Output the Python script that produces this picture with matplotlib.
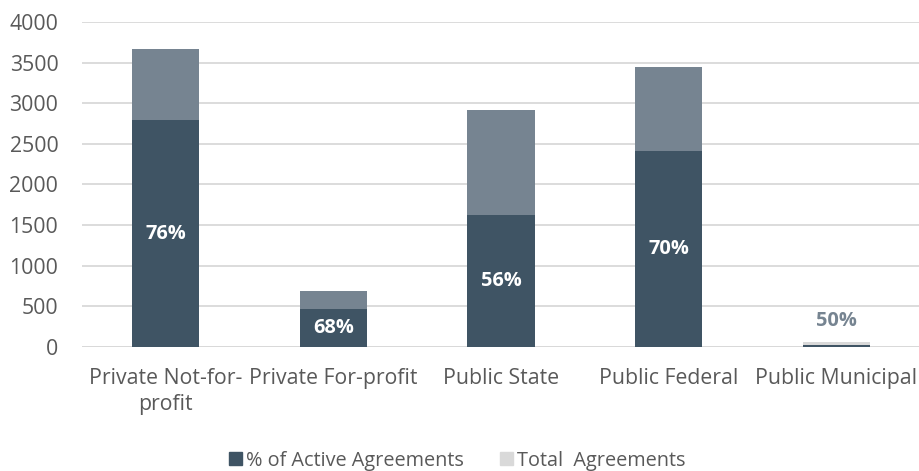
import numpy as np
import matplotlib.pyplot as plt
from matplotlib.patches import Patch

# Datos
categorias = ["Private Not-for-\nprofit", "Private For-profit", "Public State",
              "Public Federal", "Public Municipal"]
total = [3670, 690, 2920, 3450, 60]
activos = [2790, 470, 1630, 2410, 30]
porcentajes = ["76%", "68%", "56%", "70%", "50%"]

oscuro = "#3f5464"
gris = "#768491"
claro = "#d9d9d9"
texto = "#595959"

plt.rcParams["font.family"] = ["Open Sans", "DejaVu Sans"]

fig = plt.figure(figsize=(9.2, 4.71), dpi=100)
ax = fig.add_axes([0.0891, 0.2633, 0.9109, 0.690])

x = np.arange(len(categorias))
width = 0.4
colores_total = [gris, gris, gris, gris, claro]

ax.bar(x, total, width=width, color=colores_total, zorder=2)
ax.bar(x, activos, width=width, color=oscuro, zorder=3)

# Etiquetas de porcentaje
for i in range(len(categorias)):
    if activos[i] > 300:
        ax.text(x[i], activos[i] / 2, porcentajes[i], ha="center", va="center",
                color="white", fontsize=14.4, fontweight="bold", zorder=4)
    else:
        ax.annotate(porcentajes[i], (x[i], total[i]), xytext=(0, 8),
                    textcoords="offset points", ha="center", va="bottom",
                    color=gris, fontsize=14.4, fontweight="bold")

ax.set_xlim(-0.5, 4.5)
ax.set_ylim(0, 4000)
ax.set_yticks(np.arange(0, 4001, 500))
ax.set_xticks(x)
ax.set_xticklabels(categorias, fontsize=15.3, color=texto, linespacing=1.3)
ax.tick_params(axis="y", labelsize=15.3, labelcolor=texto, length=0, pad=17)
ax.tick_params(axis="x", length=0, pad=15)
ax.grid(axis="y", color=claro, linewidth=1.3, zorder=0)
ax.axhline(0, color=claro, linewidth=2, zorder=1)
for s in ax.spines.values():
    s.set_visible(False)

handles = [Patch(color=oscuro), Patch(color=claro)]
fig.legend(handles, ["% of Active Agreements", "Total  Agreements"],
           loc="center", bbox_to_anchor=(0.497, 0.022), ncol=2, frameon=False,
           fontsize=14.3, labelcolor=texto, handlelength=0.65, handleheight=0.65,
           handletextpad=0.2, columnspacing=1.85, borderpad=0)

plt.savefig("out.png", dpi=100)
plt.close()
